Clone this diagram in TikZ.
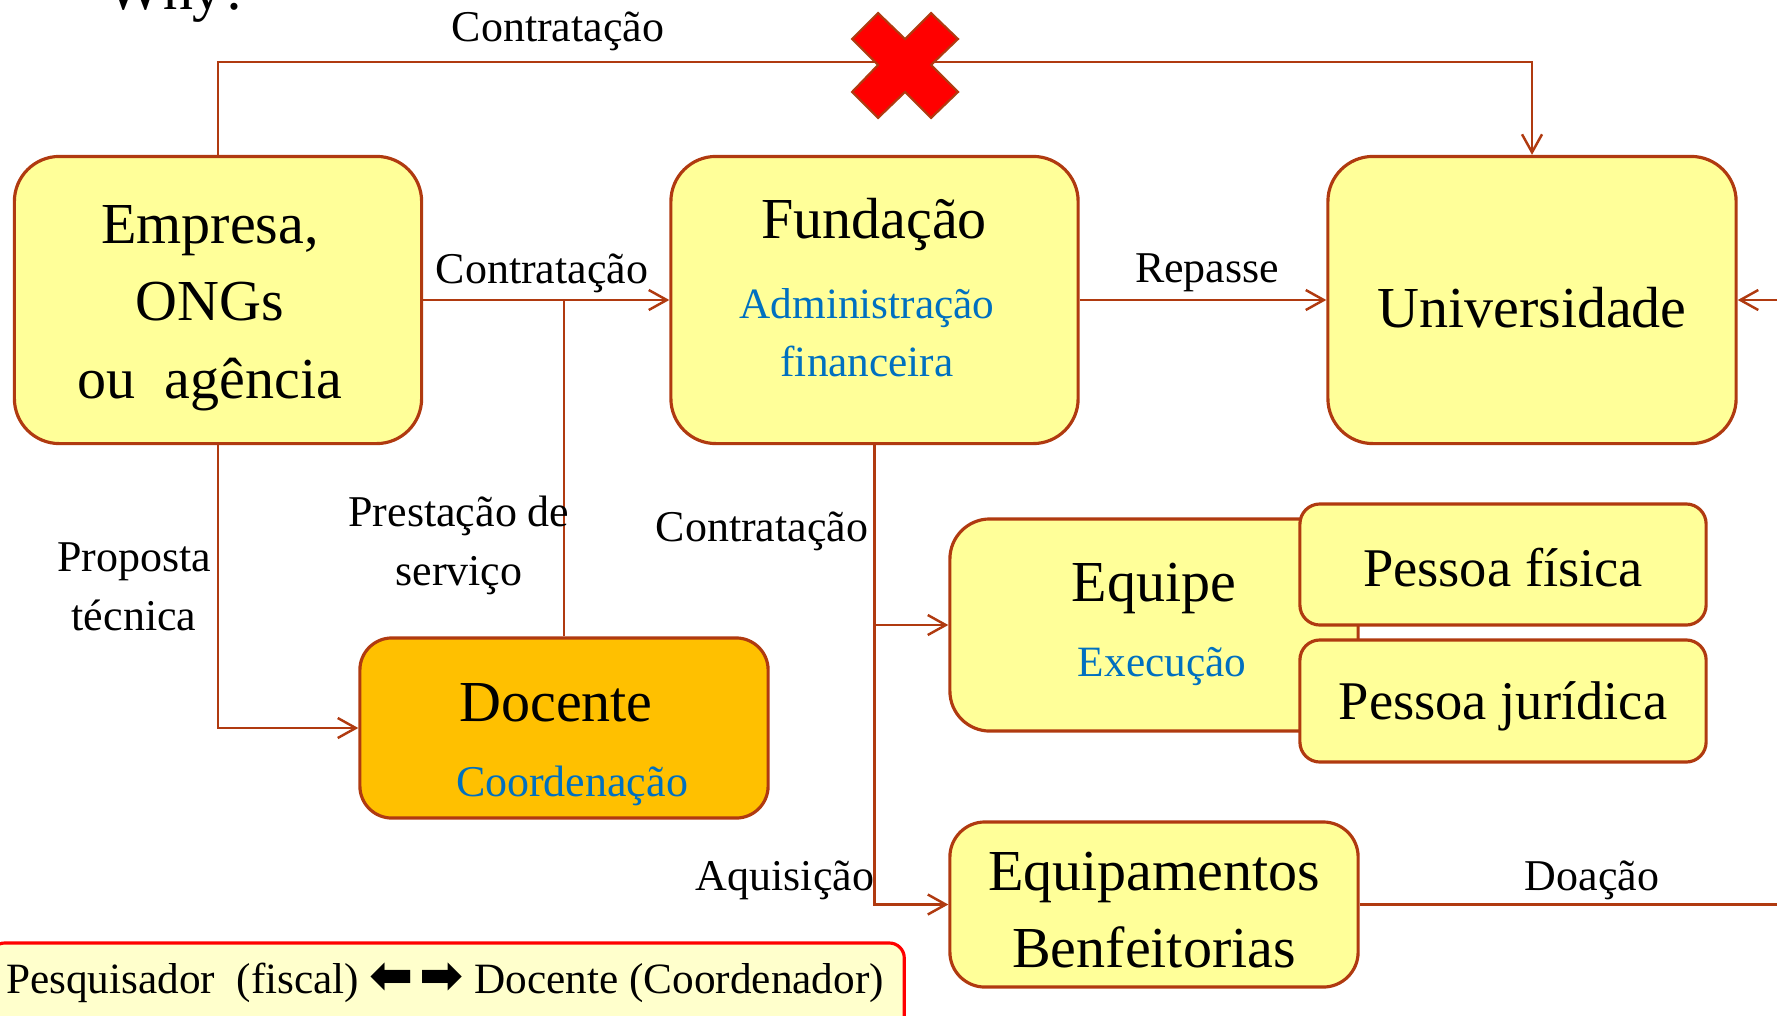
\documentclass[tikz,border=0pt]{standalone}
\usepackage{fontspec}
\setmainfont{Liberation Serif}
\newfontfamily\arrowfont{DejaVu Sans}
\usetikzlibrary{arrows.meta,positioning}
\definecolor{edgecol}{RGB}{176,58,16}
\definecolor{boxfill}{RGB}{255,255,153}
\definecolor{docfill}{RGB}{255,192,0}
\definecolor{subcol}{RGB}{0,112,192}
\definecolor{legfill}{RGB}{255,255,204}

\begin{document}
\begin{tikzpicture}[x=0.01cm,y=-0.01cm,
    >={Straight Barb[length=1.8mm,width=2mm]},
    box/.style={draw=edgecol,fill=boxfill,line width=0.9pt,inner sep=0pt,rounded corners=0.4cm},
    conn/.style={draw=edgecol,line width=0.7pt},
    big/.style={font=\fontsize{16.5}{22}\selectfont,align=center,yshift=-0.06cm},
    lbl/.style={font=\fontsize{12.5}{16.8}\selectfont,align=center,yshift=-0.04cm},
    sub/.style={font=\fontsize{12.3}{16.5}\selectfont,text=subcol,align=center,yshift=-0.04cm}]
    \useasboundingbox (0,0) rectangle (1777,1015);
    %boxes
    \node[box,minimum width=4.07cm,minimum height=2.87cm,rounded corners=0.45cm] (emp) at (218,300) {};
    \node[box,minimum width=4.07cm,minimum height=2.87cm,rounded corners=0.45cm] (fund) at (874.5,300) {};
    \node[box,minimum width=4.08cm,minimum height=2.87cm,rounded corners=0.45cm] (univ) at (1532,300) {};
    \node[box,fill=docfill,minimum width=4.08cm,minimum height=1.8cm,rounded corners=0.32cm] (doc) at (564,728) {};
    \node[box,minimum width=4.08cm,minimum height=2.12cm] (equipe) at (1154,625) {};
    \node[box,minimum width=4.06cm,minimum height=1.21cm,rounded corners=0.2cm] (pf) at (1503,564.5) {};
    \node[box,minimum width=4.06cm,minimum height=1.22cm,rounded corners=0.2cm] (pj) at (1503,701) {};
    \node[box,minimum width=4.08cm,minimum height=1.65cm,rounded corners=0.35cm] (equip) at (1154,904.5) {};
    \node[draw=red,fill=legfill,line width=0.9pt,rounded corners=0.15cm,minimum width=9.14cm,minimum height=0.97cm] (leg) at (447,991.5) {};
    %texts in boxes
    \node[big] (emp-t) at (210,302) {Empresa,\\ONGs\\ou\ \ agência};
    \node[big] (fund-t) at (874,219) {Fundação};
    \node[sub] (fund-s) at (867,329) {Administração\\financeira};
    \node[big] (univ-t) at (1532,302) {Universidade};
    \node[big] (doc-t) at (556,697) {Docente};
    \node[sub,font=\fontsize{12.5}{16.5}\selectfont] (doc-s) at (572,782) {Coordenação};
    \node[big] (equipe-t) at (1154,582) {Equipe};
    \node[sub] (equipe-s) at (1162,663) {Execução};
    \node[big,font=\fontsize{15.5}{20}\selectfont] (pf-t) at (1503,562) {Pessoa física};
    \node[big,font=\fontsize{15.5}{20}\selectfont] (pj-t) at (1503,700) {Pessoa jurídica};
    \node[big] (equip-t) at (1154,904) {Equipamentos\\Benfeitorias};
    \node[lbl,font=\fontsize{12.3}{16.8}\selectfont] (leg-t) at (445,979) {Pesquisador\ \ (fiscal) {\arrowfont\bfseries\fontsize{15}{16}\selectfont ⬅\kern1.5pt➡} Docente (Coordenador)};
    \node[font=\fontsize{17}{20}\selectfont,anchor=base] (why) at (178,9) {Why?};
    %free ends
    \coordinate (cut) at (905,62);
    \coordinate (rin) at (1800,300);
    \coordinate (dout) at (1800,904.5);
    %edges
    \draw[conn,->] (emp.north) |- (cut) -| (univ.north);
    \draw[conn,->] (emp) -- (fund);
    \draw[conn] (doc.north) -- (doc.north |- emp.east);
    \draw[conn,->] (emp.south) |- (doc.west);
    \draw[conn,->] (fund) -- (univ);
    \draw[conn,->] (rin) -- (univ.east);
    \draw[conn,->] (fund.south) |- (equipe.west);
    \draw[conn,->] (fund.south) |- (equip.west);
    \draw[conn] (equip.east) -- (dout);
    %red cross
    \draw[fill=red,draw=edgecol,line width=0.6pt] (878,13) -- (905,39) -- (931,13) -- (958,39) -- (931,65) -- (958,92)
        -- (931,118) -- (905,92) -- (878,118) -- (852,92) -- (878,65) -- (852,39) -- cycle;
    %labels
    \node[lbl] (l-top) at (558,27) {Contratação};
    \node[lbl] (l-contr) at (542,269) {Contratação};
    \node[lbl] (l-rep) at (1207,269) {Repasse};
    \node[lbl] (l-prest) at (459,541) {Prestação de\\serviço};
    \node[lbl] (l-prop) at (134,583) {Proposta\\técnica};
    \node[lbl] (l-contr2) at (762,527) {Contratação};
    \node[lbl] (l-aq) at (785,876) {Aquisição};
    \node[lbl] (l-doa) at (1592,876) {Doação};
\end{tikzpicture}
\end{document}
